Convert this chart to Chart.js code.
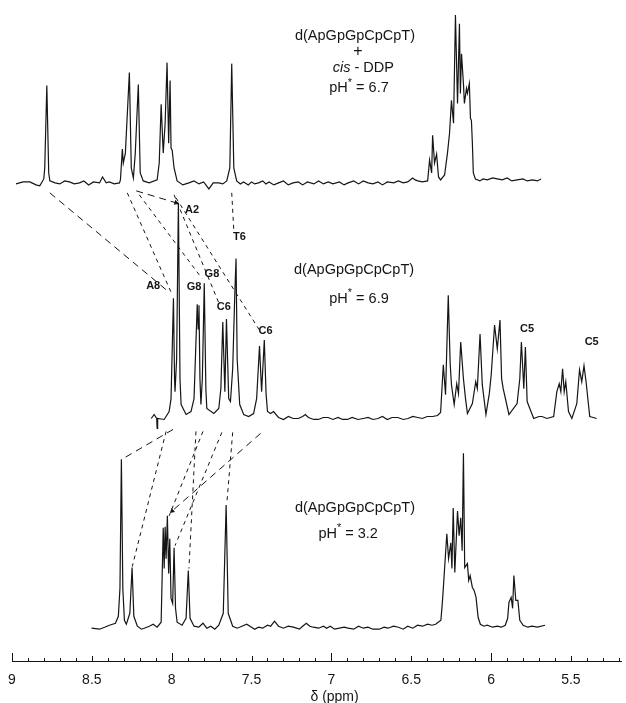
<!DOCTYPE html>
<html lang="en">
<head>
<meta charset="UTF-8">
<title>1H NMR of d(ApGpGpCpCpT)</title>
<style>
  html, body { margin: 0; padding: 0; background: #fff; }
  canvas { display: block; }
</style>
</head>
<body>
<canvas id="nmr" width="626" height="703"></canvas>
<script src="https://cdn.jsdelivr.net/npm/chart.js"></script>
<script>
// shift axis (ppm), drawn high -> low
const X_MIN = 5.18, X_MAX = 9.0;
const majorTicks = [9, 8.5, 8, 7.5, 7, 6.5, 6, 5.5];
const minorStep = 0.1;
const axisTitle = 'δ (ppm)';

// [ppm, intensity] (intensity in arbitrary units above its own baseline)
// top: + cis-DDP, pH* 6.7
const topTrace = [
  [8.975,-1],[8.93,1],[8.888,1],[8.85,-2],[8.826,-3],[8.801,4],[8.795,15],[8.782,98],[8.770,10],[8.763,2],
  [8.73,0],[8.701,-1],[8.67,2],[8.64,1],[8.61,-1],[8.577,0],[8.55,2],[8.52,-2],[8.49,1],[8.452,0],
  [8.433,6],[8.41,0],[8.390,1],[8.36,-1],[8.327,0],[8.321,3],[8.309,34],
  [8.303,20],[8.290,30],[8.265,111],[8.253,15],[8.240,5],[8.228,30],[8.209,99],[8.197,10],[8.178,2],[8.141,0],
  [8.091,3],[8.078,20],[8.066,79],[8.053,30],[8.041,60],[8.029,121],[8.019,40],[8.010,103],[8.004,35],[7.997,33],
  [7.985,15],[7.966,2],[7.930,-2],[7.892,0],[7.86,2],[7.829,-1],[7.80,1],[7.767,-6],[7.74,0],[7.705,0],
  [7.68,-1],[7.655,2],[7.636,15],[7.624,120],[7.611,15],[7.593,2],
  [7.57,-1],[7.55,1],[7.52,-2],[7.50,1],[7.48,-1],[7.456,0],[7.43,2],[7.41,-1],[7.39,1],[7.36,-2],
  [7.331,0],[7.30,2],[7.27,-2],[7.24,0],[7.207,1],[7.18,-2],[7.15,1],[7.11,-1],[7.08,2],[7.05,-1],
  [7.02,1],[6.99,-1],[6.95,1],[6.92,-2],[6.895,0],[6.86,2],[6.83,-1],[6.80,2],[6.77,0],[6.74,-1],
  [6.708,1],[6.68,-2],[6.65,1],[6.61,0],[6.58,2],[6.55,0],[6.522,1],[6.491,5],[6.475,3],[6.459,2],
  [6.43,1],[6.397,2],[6.385,23],
  [6.372,10],[6.366,48],[6.354,20],[6.341,29],[6.329,6],[6.316,3],[6.291,8],[6.273,30],[6.260,50],[6.248,83],
  [6.235,60],[6.223,169],[6.210,80],[6.198,160],[6.192,90],[6.185,130],[6.173,100],[6.167,80],[6.154,95],[6.148,90],
  [6.136,100],[6.129,65],[6.123,63],[6.117,40],[6.111,10],[6.098,4],[6.07,2],[6.05,4],[6.023,3],[5.99,5],
  [5.961,4],[5.93,3],[5.899,5],[5.87,2],[5.837,3],[5.80,4],[5.774,2],[5.74,3],[5.71,2],[5.687,4]
];

// middle: pH* 6.9
const midTrace = [
  [8.128,0],[8.110,4],[8.094,0],[8.091,-10],[8.088,0],[8.047,-1],[8.016,7],[8.004,20],[7.989,121],[7.982,40],
  [7.979,27],[7.969,60],[7.958,217],[7.948,40],[7.941,14],[7.910,4],[7.879,7],[7.860,20],[7.840,115],[7.834,90],
  [7.829,114],[7.823,40],[7.817,14],[7.808,40],[7.796,136],[7.786,30],[7.780,10],[7.736,5],[7.705,10],[7.692,30],
  [7.680,97],[7.667,27],[7.657,100],[7.643,20],[7.632,17],[7.618,50],[7.605,124],[7.597,161],[7.590,60],[7.574,14],
  [7.549,4],[7.518,2],[7.487,5],[7.468,20],[7.450,73],[7.437,27],[7.420,79],[7.409,25],[7.400,7],[7.381,5],
  [7.362,7],[7.331,1],[7.30,-1],[7.269,2],[7.24,0],[7.207,0],[7.18,2],[7.163,4],[7.144,1],[7.11,-1],
  [7.082,-1],[7.05,1],[7.02,1],[6.99,-1],[6.958,1],[6.93,-1],[6.90,-1],[6.87,1],[6.833,-1],[6.80,0],
  [6.77,1],[6.74,-1],[6.708,0],[6.68,2],[6.65,-1],[6.62,1],[6.584,1],[6.55,-1],[6.52,0],[6.49,2],
  [6.459,1],[6.43,0],[6.40,2],[6.366,2],[6.335,3],
  [6.316,6],[6.299,54],[6.285,24],[6.268,124],[6.256,55],[6.248,34],[6.231,14],[6.215,35],[6.204,25],[6.190,77],
  [6.173,40],[6.160,20],[6.148,5],[6.117,15],[6.096,37],[6.086,30],[6.069,85],[6.055,34],[6.032,4],[6.011,25],
  [5.999,44],[5.978,94],[5.961,70],[5.944,99],[5.934,40],[5.924,30],[5.888,4],[5.837,15],[5.820,40],[5.810,77],
  [5.795,30],[5.785,72],[5.774,17],[5.733,0],[5.70,2],[5.681,2],[5.65,0],[5.608,2],[5.588,27],[5.573,35],
  [5.563,27],[5.552,50],[5.542,27],[5.532,37],[5.515,7],[5.494,0],[5.463,15],[5.446,49],[5.432,37],[5.418,53],
  [5.405,37],[5.382,2],[5.36,1],[5.339,0]
];

// bottom: pH* 3.2
const botTrace = [
  [8.502,0],[8.452,-1],[8.42,1],[8.390,3],[8.352,5],[8.334,12],[8.324,40],[8.315,170],[8.306,40],[8.296,8],
  [8.284,4],[8.262,15],[8.248,61],[8.237,12],[8.215,2],[8.19,-1],[8.172,0],[8.14,2],[8.116,4],[8.091,1],
  [8.066,6],[8.053,101],[8.047,60],[8.041,102],[8.035,70],[8.027,113],[8.019,55],[8.012,90],[8.004,30],[7.994,25],
  [7.985,81],[7.976,20],[7.966,6],[7.935,3],[7.910,10],[7.896,58],[7.885,10],[7.860,2],[7.83,1],[7.804,5],
  [7.78,0],[7.755,2],[7.73,-1],[7.705,3],[7.677,15],[7.659,124],[7.646,15],[7.618,2],[7.59,0],[7.56,2],
  [7.530,4],[7.50,1],[7.48,-1],[7.456,1],[7.43,0],[7.40,3],[7.38,2],[7.356,7],[7.331,2],[7.30,0],
  [7.27,2],[7.238,1],[7.20,-1],[7.18,2],[7.157,5],[7.135,2],[7.113,1],[7.08,0],[7.05,2],[7.03,0],
  [7.007,2],[6.98,-1],[6.95,0],[6.92,1],[6.895,0],[6.86,-1],[6.83,2],[6.80,0],[6.771,1],[6.74,-1],
  [6.70,-1],[6.67,1],[6.646,0],[6.61,2],[6.58,1],[6.55,-1],[6.522,2],[6.49,0],[6.46,3],[6.43,2],
  [6.397,4],[6.37,3],[6.347,4],[6.314,8],[6.304,28],[6.297,45],[6.277,95],[6.266,70],
  [6.252,86],[6.245,60],[6.237,121],[6.227,56],[6.210,118],[6.200,93],[6.190,111],[6.181,78],[6.173,176],[6.165,61],
  [6.148,65],[6.140,48],[6.131,53],[6.117,41],[6.106,38],[6.094,31],[6.081,11],[6.067,4],[6.045,2],[6.024,3],
  [5.99,1],[5.961,2],[5.935,1],[5.911,3],[5.896,10],[5.888,26],[5.874,31],[5.865,20],[5.857,53],[5.845,28],
  [5.832,28],[5.820,8],[5.799,3],[5.77,1],[5.743,2],[5.71,1],[5.662,3]
];

// assignment links: [ppm upper, intensity upper, ppm lower, intensity lower]
const topToMidLinks = [
  [8.763,-10, 8.016,127],
  [8.278,-10, 8.004,127],
  [8.222,-8, 7.973,217],
  [8.203,-12, 7.811,141],
  [7.985,-12, 7.699,114],
  [7.973,-15, 7.443,87],
  [7.624,-10, 7.611,189]
];
const midToBotLinks = [
  [7.991,-11, 8.290,172],
  [8.035,-13, 8.247,62],
  [7.848,-13, 7.892,60],
  [7.804,-13, 8.016,113],
  [7.686,-14, 7.979,83],
  [7.618,-14, 7.655,125],
  [7.443,-15, 7.997,118]
];

// peak assignments on the middle trace
const peakNames = ['A2', 'T6', 'G8', 'A8', 'G8', 'C6', 'C6', 'C5', 'C5'];
const peakPpm = [7.873, 7.576, 7.748, 8.116, 7.860, 7.674, 7.412, 5.774, 5.370];
const peakHeight = [210, 183, 145, 133, 132, 112, 88, 90, 77];

const sampleName = 'd(ApGpGpCpCpT)';
const phValues = ['6.7', '6.9', '3.2'];

// layout: baseline of each trace on the stacked intensity axis
const Y_MAX = 661;
const BASE = { top: 481, mid: 244, bot: 33 };
const INK = '#151515';
const FONT = '"Liberation Sans", Arial, sans-serif';
const PX_PER_PPM = 160.7; // only used to orient the arrow heads

function traceSet(trace, base) {
  return {
    data: trace.map(p => ({ x: p[0], y: p[1] + base })),
    showLine: true, borderColor: INK, borderWidth: 1.2,
    pointRadius: 0, tension: 0, fill: false, clip: false
  };
}

function linkSet(link, upper, lower, longDash, arrow) {
  const dx = -(link[2] - link[0]) * PX_PER_PPM;
  const dy = -((link[3] + lower) - (link[1] + upper));
  const angle = Math.atan2(dx, -dy) * 180 / Math.PI;
  return {
    data: [{ x: link[0], y: link[1] + upper }, { x: link[2], y: link[3] + lower }],
    showLine: true, borderColor: INK, borderWidth: 1,
    borderDash: longDash ? [7, 5] : [4, 4],
    pointStyle: 'triangle', pointRotation: angle,
    pointRadius: arrow ? [0, 3] : 0,
    pointBackgroundColor: INK, pointBorderColor: INK, pointBorderWidth: 0,
    fill: false
  };
}

const datasets = [
  traceSet(topTrace, BASE.top),
  traceSet(midTrace, BASE.mid),
  traceSet(botTrace, BASE.bot)
];
topToMidLinks.forEach((l, i) => datasets.push(linkSet(l, BASE.top, BASE.mid, i === 0 || i === 2, i === 2)));
midToBotLinks.forEach((l, i) => datasets.push(linkSet(l, BASE.mid, BASE.bot, i === 0 || i === 6, i === 6)));

// shift axis: line, upward ticks, labels and title
const shiftAxis = {
  id: 'shiftAxis',
  afterDraw(chart) {
    const { ctx, chartArea, scales: { x } } = chart;
    const yb = chartArea.bottom;
    ctx.save();
    ctx.strokeStyle = INK;
    ctx.fillStyle = INK;
    ctx.lineWidth = 1.2;
    ctx.beginPath();
    ctx.moveTo(chartArea.left, yb + 0.5);
    ctx.lineTo(chartArea.right, yb + 0.5);
    ctx.stroke();
    ctx.lineWidth = 1;
    const n = Math.round((X_MAX - 5.2) / minorStep);
    for (let i = 0; i <= n; i++) {
      const v = Math.round((X_MAX - i * minorStep) * 10) / 10;
      const px = Math.round(x.getPixelForValue(v)) + 0.5;
      let len = 3;
      if (Math.abs(v - Math.round(v)) < 1e-6) len = 8;
      else if (majorTicks.some(t => Math.abs(t - v) < 1e-6)) len = 5;
      ctx.beginPath();
      ctx.moveTo(px, yb);
      ctx.lineTo(px, yb - len);
      ctx.stroke();
    }
    ctx.font = '14px ' + FONT;
    ctx.textAlign = 'center';
    ctx.textBaseline = 'middle';
    majorTicks.forEach(t => ctx.fillText(String(t), x.getPixelForValue(t), yb + 19));
    ctx.fillText(axisTitle, x.getPixelForValue(6.98), yb + 36);
    ctx.restore();
  }
};

function drawParts(ctx, parts, cx, cy, size) {
  let w = 0;
  parts.forEach(p => {
    ctx.font = (p.italic ? 'italic ' : '') + (p.sup ? size * 0.75 : size) + 'px ' + FONT;
    p.w = ctx.measureText(p.t).width;
    w += p.w;
  });
  let xx = cx - w / 2;
  parts.forEach(p => {
    ctx.font = (p.italic ? 'italic ' : '') + (p.sup ? size * 0.75 : size) + 'px ' + FONT;
    ctx.fillText(p.t, xx, p.sup ? cy - size * 0.4 : cy);
    xx += p.w;
  });
}

const annotations = {
  id: 'annotations',
  afterDraw(chart) {
    const { ctx, scales: { x, y } } = chart;
    ctx.save();
    ctx.fillStyle = INK;
    ctx.textBaseline = 'middle';
    ctx.textAlign = 'left';
    const at = (ppm, val) => [x.getPixelForValue(ppm), y.getPixelForValue(val)];
    const ph = v => [{ t: 'pH' }, { t: '*', sup: true }, { t: ' = ' + v }];

    let p = at(6.852, 629); drawParts(ctx, [{ t: sampleName }], p[0], p[1], 14.5);
    p = at(6.833, 613); drawParts(ctx, [{ t: '+' }], p[0], p[1], 16);
    p = at(6.80, 597); drawParts(ctx, [{ t: 'cis', italic: true }, { t: ' - DDP' }], p[0], p[1], 14.5);
    p = at(6.827, 576); drawParts(ctx, ph(phValues[0]), p[0], p[1], 14.5);

    p = at(6.858, 393); drawParts(ctx, [{ t: sampleName }], p[0], p[1], 14.5);
    p = at(6.827, 364); drawParts(ctx, ph(phValues[1]), p[0], p[1], 14.5);

    p = at(6.852, 154); drawParts(ctx, [{ t: sampleName }], p[0], p[1], 14.5);
    p = at(6.895, 128); drawParts(ctx, ph(phValues[2]), p[0], p[1], 14.5);

    ctx.textAlign = 'center';
    ctx.font = '600 11px ' + FONT;
    peakNames.forEach((name, i) => {
      const q = at(peakPpm[i], peakHeight[i] + BASE.mid);
      ctx.fillText(name, q[0], q[1]);
    });
    ctx.restore();
  }
};

new Chart(document.getElementById('nmr'), {
  type: 'scatter',
  data: { datasets },
  options: {
    responsive: false,
    animation: false,
    layout: { padding: { left: 12, right: 0, top: 0, bottom: 703 - Y_MAX } },
    plugins: { legend: { display: false }, tooltip: { enabled: false } },
    scales: {
      x: { type: 'linear', reverse: true, min: X_MIN, max: X_MAX, display: false },
      y: { type: 'linear', display: false, min: 0, max: Y_MAX }
    }
  },
  plugins: [shiftAxis, annotations]
});
</script>
</body>
</html>
